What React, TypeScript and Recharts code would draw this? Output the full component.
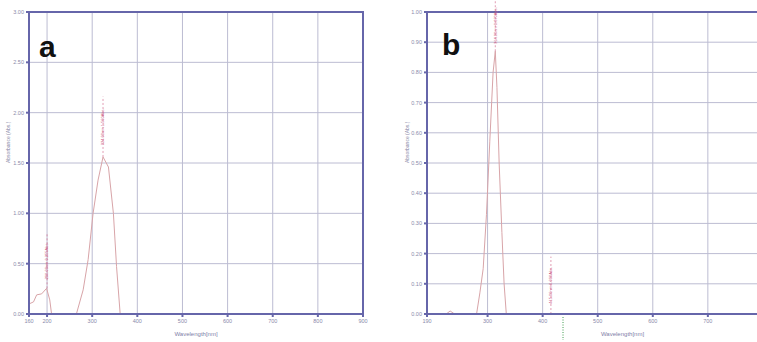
import React from "react";
import {
  LineChart,
  Line,
  XAxis,
  YAxis,
  CartesianGrid,
  ReferenceLine,
  ReferenceArea,
} from "recharts";

// ---------- Panel a ----------
const wavelengthA = [160, 170, 177, 188, 199, 206, 210, 238, 265, 280, 291, 302, 313, 324, 336, 347, 354, 362, 900];
const absorbanceA: (number | null)[] = [0.1, 0.12, 0.19, 0.2, 0.255, 0.14, 0, null, 0, 0.24, 0.54, 1.0, 1.33, 1.56, 1.46, 1.0, 0.47, 0, 0];
const xTicksA = [160, 200, 300, 400, 500, 600, 700, 800, 900];
const yTicksA = [0, 0.5, 1, 1.5, 2, 2.5, 3];
const peaksA = [
  { x: 200, y0: 0.255, y1: 0.8, text: "200.00nm 0.255Abs." },
  { x: 324, y0: 1.56, y1: 2.16, text: "324.00nm 1.560Abs." },
];

// ---------- Panel b ----------
const wavelengthB = [190, 225, 232, 240, 280, 286, 292, 298, 304, 310, 314, 317, 321, 326, 330, 334, 900];
const absorbanceB = [0, 0, 0.01, 0, 0, 0.07, 0.15, 0.33, 0.57, 0.8, 0.87, 0.75, 0.5, 0.27, 0.1, 0, 0];
const xTicksB = [190, 300, 400, 500, 600, 700, 800, 900];
const yTicksB = [0, 0.1, 0.2, 0.3, 0.4, 0.5, 0.6, 0.7, 0.8, 0.9, 1.0];
const peaksB = [
  { x: 314, y0: 0.87, y1: 1.04, text: "314.00nm 0.870Abs." },
  { x: 415, y0: 0, y1: 0.19, text: "415.00nm 0.000Abs." },
];
const markerB = { x: 437, y0: -0.01, y1: -0.086 };

const dataA = wavelengthA.map((w, i) => ({ w, v: absorbanceA[i] }));
const dataB = wavelengthB.map((w, i) => ({ w, v: absorbanceB[i] }));

const AXIS = "#6666aa";
const GRID = "#bcbcd2";
const CURVE = "#d8a4a8";
const PEAK = "#cc5a82";
const TICK = { fontSize: 5.5, fill: "#8a8aaa", fontFamily: "Liberation Sans" };

const fmt = (v: number) => v.toFixed(2);

const peakLabel = (text: string) => ({
  value: text,
  angle: -90,
  position: "center" as const,
  fontSize: 4,
  fill: PEAK,
  fontFamily: "Liberation Sans",
});

function PanelA() {
  return (
    <LineChart width={380} height={342} data={dataA} margin={{ top: 12, right: 17, left: 0, bottom: 0 }}>
      <CartesianGrid stroke={GRID} strokeWidth={1} />
      <XAxis
        dataKey="w"
        type="number"
        domain={[160, 900]}
        ticks={xTicksA}
        allowDataOverflow
        height={28}
        stroke={AXIS}
        strokeWidth={2}
        tick={TICK}
        tickSize={3}
        tickFormatter={(v: number) => String(v)}
        label={{ value: "Wavelength[nm]", position: "insideBottom", offset: 6, fontSize: 6, fill: "#8080a8", fontFamily: "Liberation Sans" }}
      />
      <YAxis
        type="number"
        domain={[0, 3]}
        ticks={yTicksA}
        width={29}
        stroke={AXIS}
        strokeWidth={2}
        tick={TICK}
        tickSize={3}
        tickFormatter={fmt}
        label={{ value: "Absorbance (Abs.)", angle: -90, position: "insideLeft", offset: 8, fontSize: 5, fill: "#8a8aa8", fontFamily: "Liberation Sans" }}
      />
      <ReferenceArea x1={160} x2={900} y1={0} y2={3} fill="none" stroke={AXIS} strokeWidth={2} ifOverflow="visible" />
      <Line type="linear" dataKey="v" stroke={CURVE} strokeWidth={1} dot={false} isAnimationActive={false} connectNulls={false} />
      <ReferenceLine stroke="#c87888" strokeWidth={1.2} segment={[{ x: 362, y: 0 }, { x: 900, y: 0 }]} />
      {peaksA.map((p) => (
        <ReferenceLine
          key={p.x}
          segment={[{ x: p.x, y: p.y0 }, { x: p.x, y: p.y1 }]}
          stroke={PEAK}
          strokeWidth={0.6}
          strokeDasharray="2 2"
          ifOverflow="visible"
          label={peakLabel(p.text)}
        />
      ))}
    </LineChart>
  );
}

function PanelB() {
  return (
    <LineChart width={450} height={342} data={dataB} margin={{ top: 12, right: 12, left: 0, bottom: 0 }}>
      <CartesianGrid stroke={GRID} strokeWidth={1} />
      <XAxis
        dataKey="w"
        type="number"
        domain={[190, 900]}
        ticks={xTicksB}
        allowDataOverflow
        height={28}
        stroke={AXIS}
        strokeWidth={2}
        tick={TICK}
        tickSize={3}
        tickFormatter={(v: number) => String(v)}
        label={{ value: "Wavelength[nm]", position: "insideBottom", offset: 6, fontSize: 6, fill: "#8080a8", fontFamily: "Liberation Sans" }}
      />
      <YAxis
        type="number"
        domain={[0, 1]}
        ticks={yTicksB}
        width={47}
        stroke={AXIS}
        strokeWidth={2}
        tick={TICK}
        tickSize={3}
        tickFormatter={fmt}
        label={{ value: "Absorbance (Abs.)", angle: -90, position: "insideLeft", offset: 27, fontSize: 5, fill: "#8a8aa8", fontFamily: "Liberation Sans" }}
      />
      <ReferenceArea x1={190} x2={900} y1={0} y2={1} fill="none" stroke={AXIS} strokeWidth={2} ifOverflow="visible" />
      <Line type="linear" dataKey="v" stroke={CURVE} strokeWidth={1} dot={false} isAnimationActive={false} />
      <ReferenceLine stroke="#c87888" strokeWidth={1.2} segment={[{ x: 190, y: 0 }, { x: 280, y: 0 }]} />
      <ReferenceLine stroke="#c87888" strokeWidth={1.2} segment={[{ x: 334, y: 0 }, { x: 900, y: 0 }]} />
      {peaksB.map((p) => (
        <ReferenceLine
          key={p.x}
          segment={[{ x: p.x, y: p.y0 }, { x: p.x, y: p.y1 }]}
          stroke={PEAK}
          strokeWidth={0.6}
          strokeDasharray="2 2"
          ifOverflow="visible"
          label={peakLabel(p.text)}
        />
      ))}
      <ReferenceLine
        segment={[{ x: markerB.x, y: markerB.y0 }, { x: markerB.x, y: markerB.y1 }]}
        stroke="#3a9a4a"
        strokeWidth={1}
        strokeDasharray="1 1.5"
        ifOverflow="visible"
      />
    </LineChart>
  );
}

const panelLetter: React.CSSProperties = {
  position: "absolute",
  fontFamily: "Liberation Sans, Arial, sans-serif",
  fontWeight: 700,
  fontSize: 30,
  lineHeight: 1,
  color: "#111",
};

export default function App() {
  return (
    <div style={{ position: "absolute", left: 0, top: 0, width: 757, height: 342, overflow: "hidden", background: "#fff" }}>
      <div style={{ position: "absolute", left: 0, top: 0 }}>
        <PanelA />
      </div>
      <div style={{ position: "absolute", left: 380, top: 0 }}>
        <PanelB />
      </div>
      <div style={{ ...panelLetter, left: 39, top: 32 }}>a</div>
      <div style={{ ...panelLetter, left: 442, top: 30 }}>b</div>
    </div>
  );
}
